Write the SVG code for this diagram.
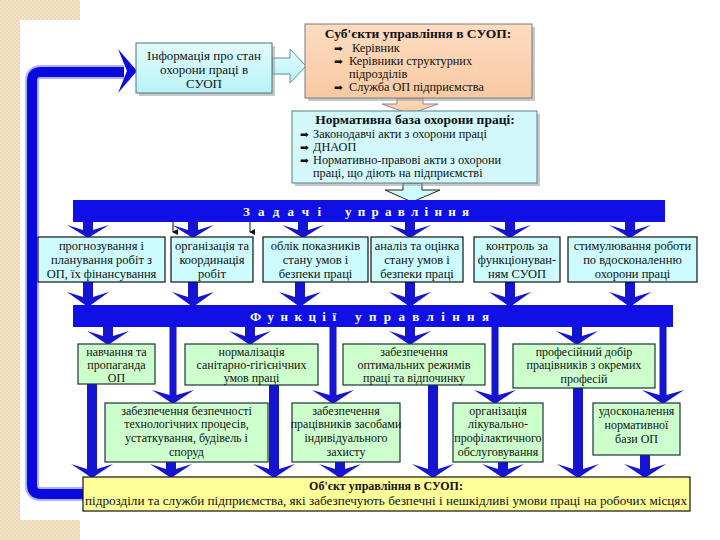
<svg xmlns="http://www.w3.org/2000/svg" width="720" height="540" viewBox="0 0 720 540" font-family="Liberation Serif, DejaVu Serif, serif">
<style>
.t{font-size:12px;fill:#111;text-anchor:middle}
.tt{font-size:12.5px;fill:#111;text-anchor:middle}
.s{font-size:12.3px;fill:#111}
.i{font-size:13px;fill:#111;text-anchor:middle}
.b{font-weight:bold}
.h{font-size:13.5px;font-weight:bold;fill:#111;text-anchor:middle}
.bul{font-size:10.5px;fill:#111}
.bar{fill:#1010e6}
.bt{font-size:13px;font-weight:bold;fill:#fff}
.task{fill:#ccfcff;stroke:#111;stroke-width:1.2}
.fn{fill:#ccffcc;stroke:#1c3434;stroke-width:1.2}
.ar{fill:#1414d2}
.shadow{fill:#9a9a9a;opacity:0.55}
</style>
<defs>
<pattern id="dots" width="4" height="4" patternUnits="userSpaceOnUse">
<rect width="4" height="4" fill="#f3e3c6"/>
<circle cx="1" cy="1" r="0.8" fill="#e4cca2"/>
<circle cx="3" cy="3" r="0.8" fill="#e4cca2"/>
</pattern>
<linearGradient id="cy" x1="0" y1="0" x2="0" y2="1">
<stop offset="0" stop-color="#e2fdff"/>
<stop offset="1" stop-color="#b8f2f8"/>
</linearGradient>
<linearGradient id="pe" x1="0" y1="0" x2="0" y2="1">
<stop offset="0" stop-color="#fddcc0"/>
<stop offset="1" stop-color="#f8c9a2"/>
</linearGradient>
<marker id="sm" markerWidth="6" markerHeight="6" refX="3" refY="5" orient="auto" markerUnits="userSpaceOnUse">
<path d="M0,0 L3,6 L6,0 Z" fill="#111"/>
</marker>
</defs>
<rect width="720" height="540" fill="#fff"/>
<g id="decor">
<rect x="0" y="0" width="80" height="20" fill="url(#dots)"/>
<rect x="0" y="0" width="20" height="540" fill="url(#dots)"/>
<rect x="0" y="520" width="80" height="20" fill="url(#dots)"/>
</g>

<g id="connectors">
<path d="M84,494 H41 Q32,494 32,485 V81 Q32,72 41,72 H124" fill="none" stroke="#aab4ff" stroke-width="14"/>
<path d="M84,494 H41 Q32,494 32,485 V81 Q32,72 41,72 H124" fill="none" stroke="#0a0ae0" stroke-width="10"/>
<path d="M137,71 L118,49 L127,71 L118,93 Z" fill="#0a0ae0"/>
<path d="M272,58 H290 V49 L306,66 L290,83 V74 H272 Z" fill="url(#cy)" stroke="#5f8f9c" stroke-width="1"/>
<path d="M397,98 H423 V104 H438 L410,114 L382,104 H397 Z" fill="url(#pe)" stroke="#8a8a8a" stroke-width="1"/>
<path d="M403,183 H422 V190 H440 L412,202 L385,190 H403 Z" fill="#ccfcff" stroke="#222" stroke-width="1"/>
<line x1="173" y1="222" x2="173" y2="232" stroke="#111" stroke-width="1" marker-end="url(#sm)"/>
<line x1="250" y1="222" x2="250" y2="232" stroke="#111" stroke-width="1" marker-end="url(#sm)"/>
<path class="ar" d="M83,222 H93 V230 L109,225 L88,238 L67,225 L83,230 Z"/>
<path class="ar" d="M188,222 H198 V230 L214,225 L193,238 L172,225 L188,230 Z"/>
<path class="ar" d="M298,222 H308 V230 L324,225 L303,238 L282,225 L298,230 Z"/>
<path class="ar" d="M405,222 H415 V230 L431,225 L410,238 L389,225 L405,230 Z"/>
<path class="ar" d="M505,222 H515 V230 L531,225 L510,238 L489,225 L505,230 Z"/>
<path class="ar" d="M625,222 H635 V230 L651,225 L630,238 L609,225 L625,230 Z"/>
<path class="ar" d="M83,282 H93 V297 L109,292 L88,307 L67,292 L83,297 Z"/>
<path class="ar" d="M188,282 H198 V297 L214,292 L193,307 L172,292 L188,297 Z"/>
<path class="ar" d="M295,282 H305 V297 L321,292 L300,307 L279,292 L295,297 Z"/>
<path class="ar" d="M405,282 H415 V297 L431,292 L410,307 L389,292 L405,297 Z"/>
<path class="ar" d="M505,282 H515 V297 L531,292 L510,307 L489,292 L505,297 Z"/>
<path class="ar" d="M625,282 H635 V297 L651,292 L630,307 L609,292 L625,297 Z"/>
<path class="ar" d="M103,327 H113 V336 L129,331 L108,345 L87,331 L103,336 Z"/>
<path class="ar" d="M245,327 H255 V336 L271,331 L250,345 L229,331 L245,336 Z"/>
<path class="ar" d="M405,327 H415 V336 L431,331 L410,345 L389,331 L405,336 Z"/>
<path class="ar" d="M572,327 H582 V336 L598,331 L577,345 L556,331 L572,336 Z"/>
<path class="ar" d="M169.5,327 H176.5 V395 L194,390 L173,404 L152,390 L169.5,395 Z"/>
<path class="ar" d="M329.5,327 H336.5 V395 L354,390 L333,404 L312,390 L329.5,395 Z"/>
<path class="ar" d="M491.5,327 H498.5 V395 L516,390 L495,404 L474,390 L491.5,395 Z"/>
<path class="ar" d="M659.5,327 H666.5 V395 L684,390 L663,404 L642,390 L659.5,395 Z"/>
<path class="ar" d="M87,384 H97 V469 L113,464 L92,478 L71,464 L87,469 Z"/>
<path class="ar" d="M269,385 H279 V469 L295,464 L274,478 L253,464 L269,469 Z"/>
<path class="ar" d="M428,385 H438 V469 L454,464 L433,478 L412,464 L428,469 Z"/>
<path class="ar" d="M573,388 H583 V469 L599,464 L578,478 L557,464 L573,469 Z"/>
<path class="ar" d="M166,462 H176 V469 L192,464 L171,478 L150,464 L166,469 Z"/>
<path class="ar" d="M335,462 H345 V469 L361,464 L340,478 L319,464 L335,469 Z"/>
<path class="ar" d="M498,462 H508 V469 L524,464 L503,478 L482,464 L498,469 Z"/>
<path class="ar" d="M640,455 H650 V469 L666,464 L645,478 L624,464 L640,469 Z"/>
</g>

<g id="info">
<rect x="139" y="46" width="136" height="50" class="shadow"/>
<rect x="136" y="43" width="136" height="50" fill="url(#cy)" stroke="#4d6e7a" stroke-width="1"/>
<text class="i" x="204" y="60">Інформація про стан</text>
<text class="i" x="204" y="74">охорони праці в</text>
<text class="i" x="204" y="88">СУОП</text>
</g>

<g id="subjects">
<rect x="308" y="27" width="227" height="74" class="shadow"/>
<rect x="305" y="24" width="227" height="74" fill="url(#pe)" stroke="#7a7a7a" stroke-width="1"/>
<text class="h" x="418" y="38">Суб'єкти управління в СУОП:</text>
<g font-family="DejaVu Sans, sans-serif">
<text class="bul" x="334" y="52">➡</text>
<text class="bul" x="334" y="65">➡</text>
<text class="bul" x="334" y="91">➡</text>
</g>
<text class="s" x="352" y="52">Керівник</text>
<text class="s" x="349" y="65">Керівники структурних</text>
<text class="s" x="349" y="78">підрозділів</text>
<text class="s" x="349" y="91">Служба ОП підприємства</text>
</g>

<g id="normative">
<rect x="295" y="114" width="245" height="72" class="shadow"/>
<rect x="292" y="111" width="245" height="72" fill="#d2f8fb" stroke="#5a7f8a" stroke-width="1"/>
<text class="h" x="415" y="124">Нормативна база охорони праці:</text>
<g font-family="DejaVu Sans, sans-serif">
<text class="bul" x="300" y="138">➡</text>
<text class="bul" x="300" y="151">➡</text>
<text class="bul" x="300" y="164">➡</text>
</g>
<text class="s" x="313" y="138">Законодавчі акти з охорони праці</text>
<text class="s" x="313" y="151">ДНАОП</text>
<text class="s" x="313" y="164">Нормативно-правові акти з охорони</text>
<text class="s" x="313" y="177">праці, що діють на підприємстві</text>
</g>

<g id="tasks-bar">
<rect class="bar" x="73" y="200" width="592" height="22"/>
<text class="bt" x="243" y="216" textLength="78" lengthAdjust="spacing">Задачі</text>
<text class="bt" x="345" y="216" textLength="124" lengthAdjust="spacing">управління</text>
</g>

<g id="task1">
<rect class="task" x="38" y="237" width="127" height="45"/>
<text class="tt" x="101.5" y="250">прогнозування і</text>
<text class="tt" x="101.5" y="264">планування робіт з</text>
<text class="tt" x="101.5" y="278">ОП, їх фінансування</text>
</g>
<g id="task2">
<rect class="task" x="171" y="237" width="82" height="45"/>
<text class="tt" x="212" y="250">організація та</text>
<text class="tt" x="212" y="264">координація</text>
<text class="tt" x="212" y="278">робіт</text>
</g>
<g id="task3">
<rect class="task" x="263" y="237" width="105" height="45"/>
<text class="tt" x="315.5" y="250">облік показників</text>
<text class="tt" x="315.5" y="264">стану умов і</text>
<text class="tt" x="315.5" y="278">безпеки праці</text>
</g>
<g id="task4">
<rect class="task" x="371" y="237" width="92" height="45"/>
<text class="tt" x="417" y="250">аналіз та оцінка</text>
<text class="tt" x="417" y="264">стану умов і</text>
<text class="tt" x="417" y="278">безпеки праці</text>
</g>
<g id="task5">
<rect class="task" x="474" y="237" width="86" height="45"/>
<text class="tt" x="517" y="250">контроль за</text>
<text class="tt" x="517" y="264">функціонуван-</text>
<text class="tt" x="517" y="278">ням СУОП</text>
</g>
<g id="task6">
<rect class="task" x="568" y="237" width="129" height="45"/>
<text class="tt" x="632.5" y="250">стимулювання роботи</text>
<text class="tt" x="632.5" y="264">по вдосконаленню</text>
<text class="tt" x="632.5" y="278">охорони праці</text>
</g>

<g id="functions-bar">
<rect class="bar" x="73" y="305" width="600" height="22"/>
<text class="bt" x="250" y="321" textLength="86" lengthAdjust="spacing">Функції</text>
<text class="bt" x="355" y="321" textLength="134" lengthAdjust="spacing">управління</text>
</g>

<g id="fa">
<rect class="fn" x="78" y="344" width="77" height="40"/>
<text class="t" x="116.5" y="356">навчання та</text>
<text class="t" x="116.5" y="369">пропаганда</text>
<text class="t" x="116.5" y="382" font-size="13">ОП</text>
</g>
<g id="fb">
<rect class="fn" x="185" y="344" width="133" height="41"/>
<text class="t" x="251.5" y="356">нормалізація</text>
<text class="t" x="251.5" y="369">санітарно-гігієнічних</text>
<text class="t" x="251.5" y="382">умов праці</text>
</g>
<g id="fc">
<rect class="fn" x="343" y="344" width="142" height="41"/>
<text class="t" x="414" y="356">забезпечення</text>
<text class="t" x="414" y="369">оптимальних режимів</text>
<text class="t" x="414" y="382">праці та відпочинку</text>
</g>
<g id="fd">
<rect class="fn" x="513" y="344" width="142" height="44"/>
<text class="t" x="584" y="356">професійний добір</text>
<text class="t" x="584" y="369">працівників з окремих</text>
<text class="t" x="584" y="383">професій</text>
</g>
<g id="fe">
<rect class="fn" x="105" y="403" width="163" height="59"/>
<text class="t" x="186.5" y="415">забезпечення безпечності</text>
<text class="t" x="186.5" y="428">технологічних процесів,</text>
<text class="t" x="186.5" y="442">устаткування, будівель і</text>
<text class="t" x="186.5" y="456">споруд</text>
</g>
<g id="ff">
<rect class="fn" x="292" y="403" width="108" height="59"/>
<text class="t" x="346" y="415">забезпечення</text>
<text class="t" x="346" y="428">працівників засобами</text>
<text class="t" x="346" y="442">індивідуального</text>
<text class="t" x="346" y="456">захисту</text>
</g>
<g id="fg">
<rect class="fn" x="453" y="403" width="90" height="59"/>
<text class="t" x="498" y="415">організація</text>
<text class="t" x="498" y="428">лікувально-</text>
<text class="t" x="498" y="442">профілактичного</text>
<text class="t" x="498" y="456">обслуговування</text>
</g>
<g id="fh">
<rect class="fn" x="593" y="403" width="87" height="52"/>
<text class="t" x="636.5" y="415">удосконалення</text>
<text class="t" x="636.5" y="429">нормативної</text>
<text class="t" x="636.5" y="443" font-size="13">бази ОП</text>
</g>

<g id="object">
<rect x="83" y="477" width="607" height="34" fill="#ffff99" stroke="#111" stroke-width="1.2"/>
<text class="t b" x="386" y="490" font-size="13">Об'єкт управління в СУОП:</text>
<text class="t" x="386" y="505" textLength="602" lengthAdjust="spacingAndGlyphs">підрозділи та служби підприємства, які забезпечують безпечні і нешкідливі умови праці на робочих місцях</text>
</g>
</svg>
